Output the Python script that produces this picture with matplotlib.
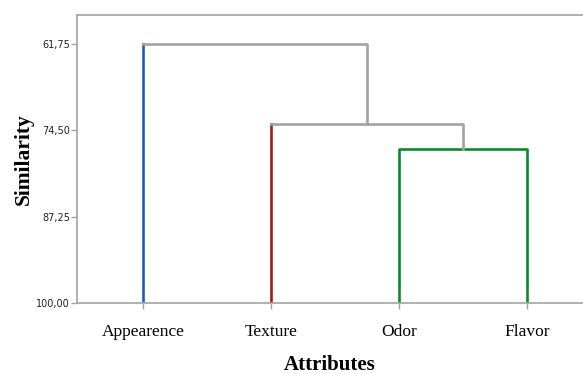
import matplotlib.pyplot as plt

# attributes (leaf order) and merge similarity levels
labels = ['Appearence', 'Texture', 'Odor', 'Flavor']
leaf_pos = [1, 2, 3, 4]
merge_odor_flavor = 77.26
merge_texture = 73.6
merge_appearance = 61.75
base = 100.0
yticks = [61.75, 74.50, 87.25, 100.00]

blue = '#1c5cb8'
red = '#a31a1a'
green = '#0b8a2b'
gray = '#a3a3a3'

fig = plt.figure(figsize=(5.83, 3.74), dpi=100)
ax = fig.add_axes([0.132, 0.19, 0.868, 0.77])

# leaf branches
ax.plot([leaf_pos[0]] * 2, [base, merge_appearance], color=blue, lw=1.9)
ax.plot([leaf_pos[1]] * 2, [base, merge_texture], color=red, lw=1.9)
ax.plot([leaf_pos[2], leaf_pos[2], leaf_pos[3], leaf_pos[3]],
        [base, merge_odor_flavor, merge_odor_flavor, base], color=green, lw=1.9)

# upper links
mid_of = (leaf_pos[2] + leaf_pos[3]) / 2
ax.plot([leaf_pos[1], mid_of, mid_of], [merge_texture, merge_texture, merge_odor_flavor],
        color=gray, lw=1.9)
mid_t = (leaf_pos[1] + mid_of) / 2
ax.plot([leaf_pos[0], mid_t, mid_t], [merge_appearance, merge_appearance, merge_texture],
        color=gray, lw=1.9)

ax.set_xlim(0.484, 4.44)
ax.set_ylim(100, 57.5)
ax.set_xticks(leaf_pos)
ax.set_xticklabels(labels, family='Liberation Serif', fontsize=12.5)
ax.set_yticks(yticks)
ax.set_yticklabels([('%.2f' % v).replace('.', ',') for v in yticks],
                   family='DejaVu Sans', fontsize=7, color='#222222')
ax.tick_params(axis='both', color=gray, length=4, width=1)
ax.tick_params(axis='x', pad=11)
ax.tick_params(axis='y', pad=1)

for s in ['left', 'bottom', 'top']:
    ax.spines[s].set_color(gray)
    ax.spines[s].set_linewidth(1.2)
ax.spines['right'].set_visible(False)

ax.set_xlabel('Attributes', family='Liberation Serif', fontweight='bold',
              fontsize=15, labelpad=11)
ax.set_ylabel('Similarity', family='Liberation Serif', fontweight='bold',
              fontsize=15.5, labelpad=2)

fig.savefig('out.png', dpi=100)
